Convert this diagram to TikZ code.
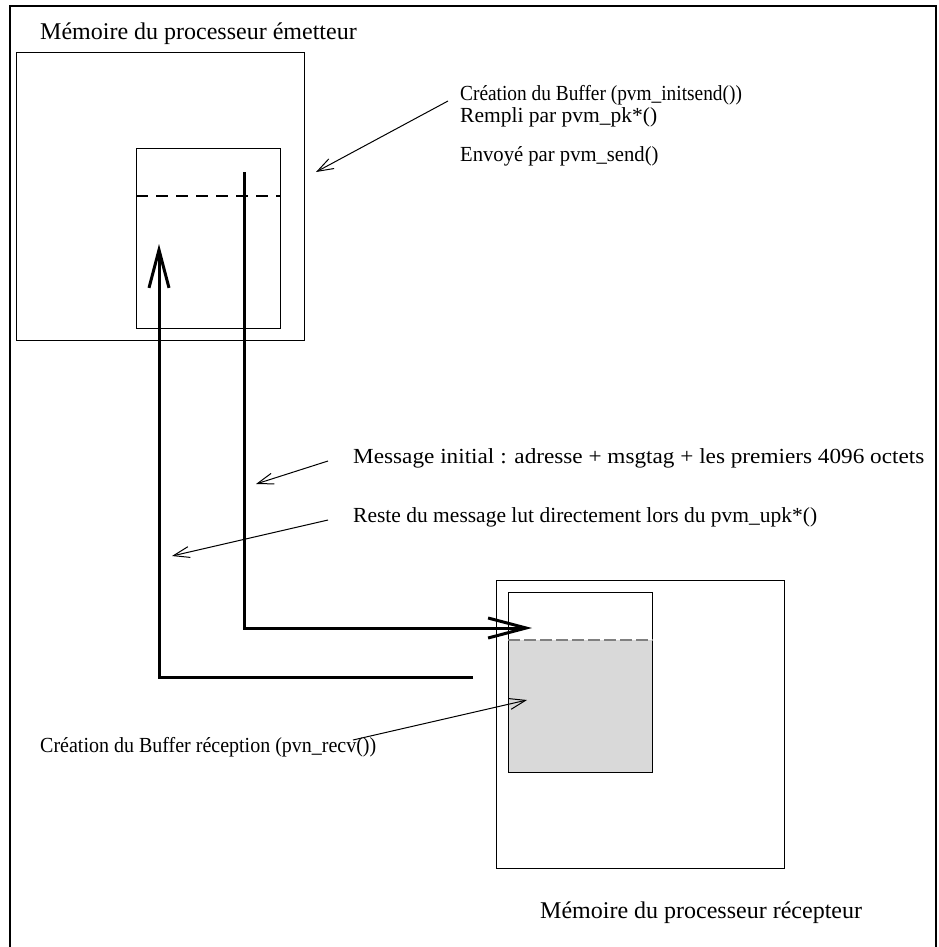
\documentclass[tikz,border=0pt]{standalone}
\usepackage{fontspec}
\usepackage{graphicx}
\setmainfont{Liberation Serif}
\usetikzlibrary{arrows.meta, positioning}

\newcommand{\hstretch}[2]{\scalebox{#1}[1]{#2}}

\tikzset{
  membox/.style={draw, line width=1.2pt, minimum width=288pt, minimum height=288pt, inner sep=0pt, anchor=north west},
  buffer/.style={draw, line width=1.2pt, minimum width=144pt, minimum height=180pt, inner sep=0pt, anchor=north west},
  title/.style={inner sep=0pt, anchor=base west, font=\fontsize{24}{26}\selectfont},
  label/.style={inner sep=0pt, anchor=base west, font=\fontsize{21.5}{24}\selectfont},
  flow/.style={line width=3pt, -{Straight Barb[length=38pt, width=20pt, line width=3pt]}},
  hint/.style={line width=1pt, -{Straight Barb[length=16pt, width=11pt]}}
}

\begin{document}
\begin{tikzpicture}[x=1pt, y=-1pt]
    \useasboundingbox (0,0) rectangle (938,947);
    % cadre
    \draw[line width=2pt] (10,947) -- (10,6) -- (936,6) -- (936,947);

    % processeur emetteur
    \node[title] (sendname) at (40,40) {Mémoire du processeur émetteur};
    \node[membox] (send) at (16,52) {};
    \node[buffer] (sendbuf) at (136,148) {};
    \coordinate (senddash) at (0,196);
    \draw[line width=1.2pt, dash pattern=on 12pt off 8pt] (sendbuf.west |- senddash) -- (sendbuf.east |- senddash);

    % processeur recepteur
    \node[membox] (recv) at (496,580) {};
    \fill[black!15] (508,640) rectangle (652,772);
    \node[buffer] (recvbuf) at (508,592) {};
    \coordinate (recvdash) at (0,640);
    \draw[gray, line width=1.2pt, dash pattern=on 12pt off 4pt] (recvbuf.west |- recvdash) -- (recvbuf.east |- recvdash);
    \node[title] (recvname) at (540,918) {Mémoire du processeur récepteur};

    % chemins du message
    \coordinate (sendtop) at (244,172);
    \coordinate (sendturn) at (244,628);
    \coordinate (recvin) at (532,628);
    \draw[flow] (sendtop) -- (sendturn) -- (recvin);
    \coordinate (recvout) at (473,677);
    \coordinate (recvturn) at (159,677);
    \coordinate (sendin) at (159,244);
    \draw[flow] (recvout) -- (recvturn) -- (sendin);

    % textes
    \node[label] (create) at (460,101) {\hstretch{0.9}{Création du Buffer (pvm\_initsend())}};
    \node[label] (fillup) at (460,123) {Rempli par pvm\_pk*()};
    \node[label] (sendtxt) at (460,161) {\hstretch{0.96}{Envoyé par pvm\_send()}};
    \node[label] (initmsg) at (353,463) {\hstretch{1.08}{Message initial : adresse + msgtag + les premiers 4096 octets}};
    \node[label] (rest) at (353,522) {Reste du message lut directement lors du pvm\_upk*()};
    \node[label] (recvcreate) at (40,752) {\hstretch{0.93}{Création du Buffer réception (pvn\_recv())}};

    % fleches fines
    \coordinate (createfrom) at (448,101);
    \coordinate (createto) at (316,172);
    \draw[hint] (createfrom) -- (createto);
    \coordinate (initfrom) at (328,461);
    \coordinate (initto) at (256,484);
    \draw[hint] (initfrom) -- (initto);
    \coordinate (restfrom) at (328,520);
    \coordinate (restto) at (172,556);
    \draw[hint] (restfrom) -- (restto);
    \coordinate (recvfrom) at (353,740);
    \coordinate (recvto) at (527,700);
    \draw[hint] (recvfrom) -- (recvto);
\end{tikzpicture}
\end{document}
